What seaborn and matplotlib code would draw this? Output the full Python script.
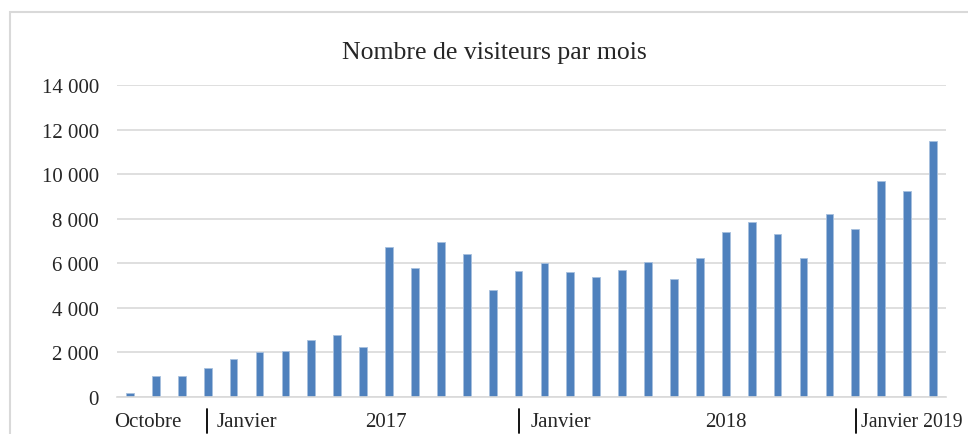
import matplotlib
matplotlib.use('agg')
import matplotlib.pyplot as plt
import matplotlib.transforms as mtransforms
from matplotlib.patches import Rectangle
from matplotlib.ticker import FuncFormatter, MultipleLocator
import seaborn as sns

# Monthly visitor counts, October 2016 onwards
months = ["2016-10", "2016-11", "2016-12",
          "2017-01", "2017-02", "2017-03", "2017-04", "2017-05", "2017-06",
          "2017-07", "2017-08", "2017-09", "2017-10", "2017-11", "2017-12",
          "2018-01", "2018-02", "2018-03", "2018-04", "2018-05", "2018-06",
          "2018-07", "2018-08", "2018-09", "2018-10", "2018-11", "2018-12",
          "2019-01", "2019-02", "2019-03", "2019-04", "2019-05"]
visitors = [200, 950, 950, 1300, 1700, 2000, 2050, 2550, 2800, 2250,
            6750, 5800, 6950, 6400, 4800, 5650, 6000, 5600, 5400, 5700,
            6050, 5300, 6250, 7400, 7850, 7300, 6250, 8200, 7550, 9700,
            9250, 11500]

# labels of the two-level category axis (text, position in bar units, align, size)
axis_labels = [("Octobre", 0.68, "center", 15), ("Janvier", 3.35, "left", 15),
               ("2017", 9.87, "center", 15), ("Janvier", 15.45, "left", 15),
               ("2018", 23.0, "center", 15), ("Janvier 2019", 28.22, "left", 14.2)]
separators = [2.97, 15.0, 28.04]

sns.set_style("white")
plt.rcParams['font.family'] = ['Liberation Serif', 'DejaVu Serif']

fig = plt.figure(figsize=(9.68, 4.35), dpi=100)
ax = fig.add_axes([117 / 968, 37 / 435, 829 / 968, 312 / 435])

sns.barplot(x=months, y=visitors, color="#4F81BD", width=0.3,
            edgecolor="#A7C0DE", linewidth=0.6, saturation=1, ax=ax)

ax.set_xlim(-0.5, len(months) - 0.5)
ax.set_ylim(0, 14000)
ax.yaxis.set_major_locator(MultipleLocator(2000))
ax.yaxis.set_major_formatter(FuncFormatter(lambda v, p: f"{int(v):,}".replace(",", " ")))
ax.grid(axis="y", color="#D9D9D9", linewidth=1.2)
ax.set_axisbelow(True)
for s in ["top", "right", "left"]:
    ax.spines[s].set_visible(False)
ax.spines["bottom"].set_color("#D9D9D9")
ax.spines["bottom"].set_linewidth(1.2)

ax.tick_params(axis="y", length=0, pad=13, labelsize=15)
ax.set_xticks([i - 0.5 for i in range(len(months) + 1)])
ax.set_xticklabels([])
ax.tick_params(axis="x", length=6, color="#D9D9D9", width=1.2)
ax.set_xlabel("")
ax.set_ylabel("")

trans = mtransforms.blended_transform_factory(ax.transData, ax.transAxes)
for text, xpos, ha, size in axis_labels:
    ax.text(xpos, -0.08, text, transform=trans, ha=ha, va="center", fontsize=size)
for xpos in separators:
    ax.plot([xpos, xpos], [-0.04, -0.115], transform=trans, color="black",
            linewidth=1.3, clip_on=False)

fig.text(0.511, 1 - 53 / 435, "Nombre de visiteurs par mois", ha="center", va="center", fontsize=18.5)

# chart frame
fig.patches.append(Rectangle((10 / 968, -0.1), 1.1, 1.1 - 13 / 435,
                             transform=fig.transFigure, fill=False,
                             edgecolor="#D9D9D9", linewidth=1.5))

fig.savefig("out.png", dpi=100)
